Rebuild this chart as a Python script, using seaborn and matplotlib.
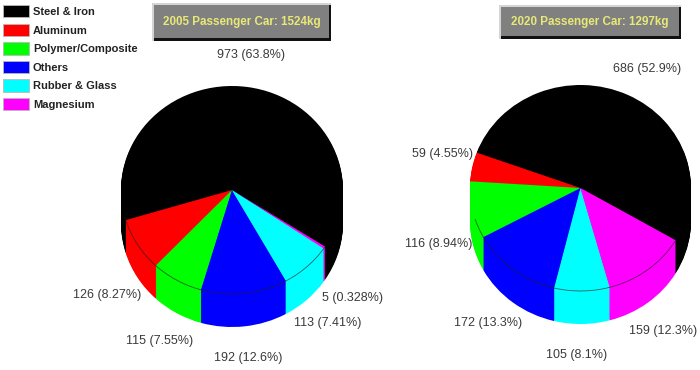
import matplotlib
matplotlib.use('Agg')
import matplotlib.pyplot as plt
from matplotlib.patches import Arc, Patch, Rectangle
import seaborn as sns

categories = ['Steel & Iron', 'Aluminum', 'Polymer/Composite', 'Others', 'Rubber & Glass', 'Magnesium']
colors = ['#000000', '#ff0000', '#00ff00', '#0000ff', '#00ffff', '#ff00ff']

values_2005 = [973, 126, 115, 192, 113, 5]
pct_2005 = ['63.8', '8.27', '7.55', '12.6', '7.41', '0.328']
values_2020 = [686, 59, 116, 172, 105, 159]
pct_2020 = ['52.9', '4.55', '8.94', '13.3', '8.1', '12.3']

title_2005 = '2005 Passenger Car: 1524kg'
title_2020 = '2020 Passenger Car: 1297kg'

W, H = 700, 370
DEPTH = 33  # pixels of pie wall

sns.set_theme(style='white')
plt.rcParams['font.family'] = ['Liberation Sans', 'DejaVu Sans']

fig = plt.figure(figsize=(W / 100, H / 100), dpi=100, facecolor='white')

# overlay in pixel coordinates for the buttons and the labels
bg = fig.add_axes([0, 0, 1, 1], zorder=5)
bg.set_xlim(0, W)
bg.set_ylim(H, 0)
bg.axis('off')


def draw_pie(values, start, cx, cy, rx, ry):
    ax = fig.add_axes([(cx - rx) / W, (H - cy - ry - DEPTH) / H, 2 * rx / W, (2 * ry + DEPTH) / H])
    d = DEPTH / ry
    # stacked pies make up the wall, the last one is the top face
    for k in range(DEPTH, -1, -1):
        ax.pie(values, colors=colors, startangle=start, counterclock=True,
               center=(0, -k * d / DEPTH), radius=1, frame=False,
               wedgeprops={'edgecolor': 'none', 'linewidth': 0})
    # thin rim between top face and wall
    ax.add_patch(Arc((0, 0), 2, 2, theta1=start + 228, theta2=start + 360,
                     color='#222222', lw=0.6, alpha=0.7))
    ax.set_aspect('auto')
    ax.set_xlim(-1, 1)
    ax.set_ylim(-1 - d, 1)
    ax.axis('off')


draw_pie(values_2005, -33, 232, 190, 111, 104)
draw_pie(values_2020, -30.5, 580.5, 188, 110.5, 103)


def draw_button(x0, y0, x1, y1, text):
    bg.add_patch(Rectangle((x0, y0), x1 - x0, y1 - y0, fc='#d4d4d4', ec='none'))
    bg.add_patch(Rectangle((x0 + 2, y0 + 2), x1 - x0 - 2, y1 - y0 - 2, fc='#111111', ec='none'))
    bg.add_patch(Rectangle((x0 + 2, y0 + 2), x1 - x0 - 4, y1 - y0 - 5, fc='#808080', ec='none'))
    bg.text((x0 + x1) / 2, (y0 + y1) / 2 + 0.5, text, color='#e8e878', fontsize=8.4,
            fontweight='bold', ha='center', va='center')


draw_button(152, 3, 331, 41, title_2005)
draw_button(499, 5, 681, 39, title_2020)

pos_2005 = [(251, 55), (107, 295), (160, 341), (248, 358), (328, 323), (352, 298)]
pos_2020 = [(647, 69), (442, 154), (439, 244), (488, 323), (577, 355), (663, 331)]

for vals, pcts, pos in [(values_2005, pct_2005, pos_2005), (values_2020, pct_2020, pos_2020)]:
    for v, p, (x, y) in zip(vals, pcts, pos):
        bg.text(x, y, f'{v} ({p}%)', color='#3a3a3a', fontsize=9, ha='center', va='center')

handles = [Patch(facecolor=c, edgecolor='#b8b8b8', lw=0.6, label=n) for c, n in zip(colors, categories)]
fig.legend(handles=handles, loc='upper left', bbox_to_anchor=(3 / W, 1 - 5 / H), frameon=False,
           prop={'size': 8.0, 'weight': 'bold'},
           handlelength=2.33, handleheight=1.35, labelspacing=0.55, handletextpad=0.35,
           borderaxespad=0, borderpad=0, labelcolor='#222222')

fig.savefig('out.png', dpi=100)
